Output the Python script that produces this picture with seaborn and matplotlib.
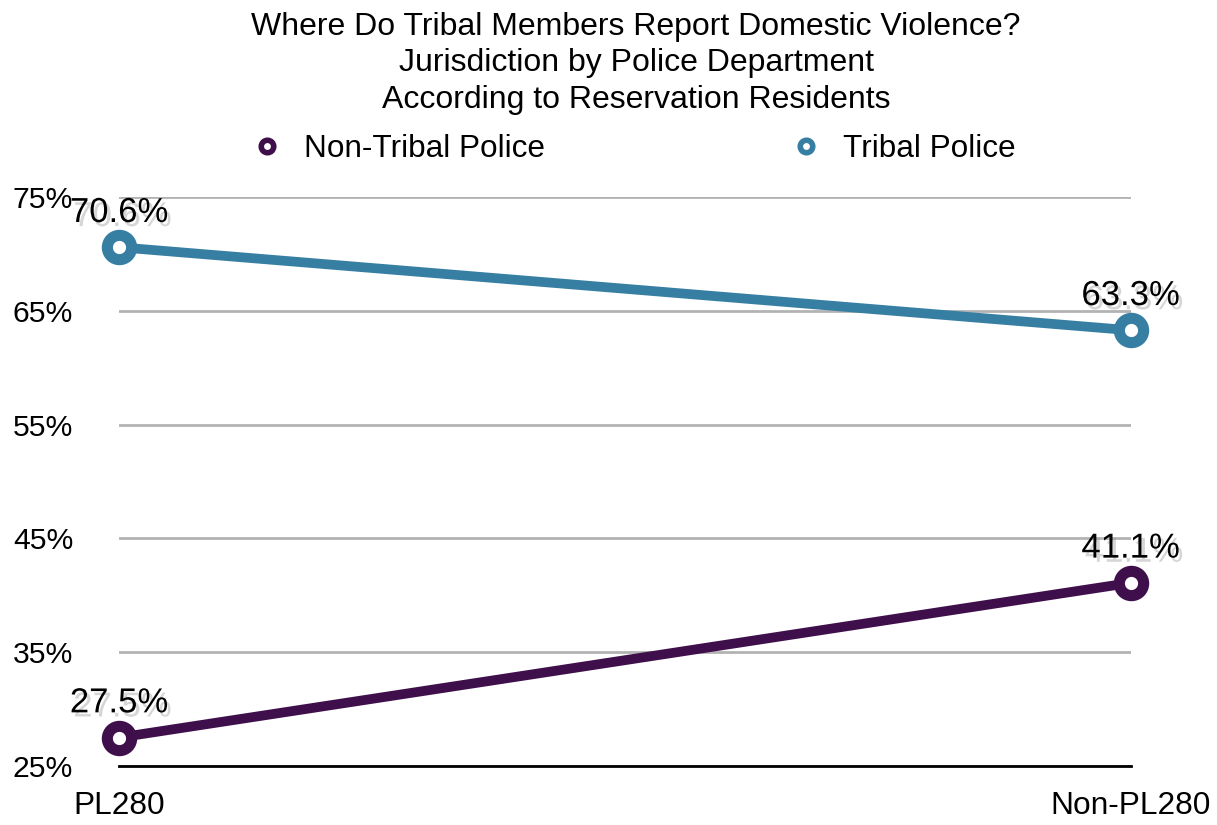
import matplotlib
matplotlib.use("Agg")
import matplotlib.pyplot as plt
import matplotlib.patheffects as pe
import seaborn as sns
import pandas as pd
from matplotlib.lines import Line2D

# Data
categories = ["PL280", "Non-PL280"]
series_names = ["Non-Tribal Police", "Tribal Police"]
non_tribal = [27.5, 41.1]
tribal = [70.6, 63.3]
y_ticks = [25, 35, 45, 55, 65, 75]
title_lines = ["Where Do Tribal Members Report Domestic Violence?",
               "Jurisdiction by Police Department",
               "According to Reservation Residents"]

colors = {"Non-Tribal Police": "#3E0F4A", "Tribal Police": "#367FA3"}

df = pd.DataFrame({
    "Jurisdiction": categories * 2,
    "Value": non_tribal + tribal,
    "Series": [series_names[0]] * 2 + [series_names[1]] * 2,
})

sns.set_theme(style="white")
plt.rcParams["font.family"] = ["Liberation Sans", "DejaVu Sans"]
plt.rcParams["text.color"] = "black"
plt.rcParams["xtick.color"] = "black"
plt.rcParams["ytick.color"] = "black"
plt.rcParams["axes.labelcolor"] = "black"

fig = plt.figure(figsize=(12.17, 8.25), dpi=100)
ax = fig.add_axes([0.0978, 0.0715, 0.8312, 0.6895])

sns.lineplot(data=df, x="Jurisdiction", y="Value", hue="Series",
             palette=colors, ax=ax, linewidth=7, marker="o",
             markersize=17.5, markerfacecolor="white", markeredgewidth=8,
             legend=False, sort=False)
for line in ax.get_lines():
    line.set_markeredgecolor(line.get_color())
    line.set_clip_on(False)

ax.set_xlim(0, 1)
ax.set_ylim(25, 75)
ax.set_yticks(y_ticks)
ax.set_yticklabels([f"{t}%" for t in y_ticks], fontsize=21.7)
ax.set_xticks([0, 1])
ax.set_xticklabels(categories, fontsize=22.8)
ax.tick_params(axis="y", length=0, pad=33)
ax.tick_params(axis="x", length=0, pad=18)
ax.set_xlabel("")
ax.set_ylabel("")
ax.yaxis.grid(True, color="#B3B3B3", linewidth=2)
ax.set_axisbelow(True)
for s in ["top", "right", "left"]:
    ax.spines[s].set_visible(False)
ax.spines["bottom"].set_color("black")
ax.spines["bottom"].set_linewidth(2)
ax.spines["bottom"].set_zorder(1)

shadow = [pe.SimplePatchShadow(offset=(2.5, -3), shadow_rgbFace="#999999", alpha=0.4), pe.Normal()]
for vals in (non_tribal, tribal):
    for i, v in enumerate(vals):
        ax.annotate(f"{v}%", (i, v), xytext=(0, 25), textcoords="offset points",
                    ha="center", va="center", fontsize=25, color="black",
                    path_effects=shadow, annotation_clip=False, zorder=5)

fig.text(0.5226, 0.986, "\n".join(title_lines), ha="center", va="top",
         fontsize=23, linespacing=1.3, color="black")

handles = [Line2D([], [], linestyle="none", marker="o", markersize=9,
                  markerfacecolor="white", markeredgewidth=4,
                  markeredgecolor=colors[n]) for n in series_names]
fig.legend(handles, series_names, loc="center", bbox_to_anchor=(0.5205, 0.819),
           ncol=2, frameon=False, fontsize=22.7, columnspacing=7.75,
           handletextpad=0.7, handlelength=1.0)

fig.savefig("out.png", dpi=100)
